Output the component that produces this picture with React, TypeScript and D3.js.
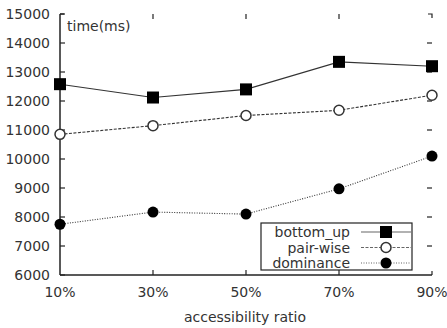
import React, { useEffect, useRef } from 'react';
import * as d3 from 'd3';

const categories = ['10%', '30%', '50%', '70%', '90%'];
const bottomUp = [12580, 12120, 12400, 13350, 13200];
const pairWise = [10850, 11150, 11500, 11680, 12200];
const dominance = [7750, 8170, 8100, 8970, 10100];
const yTicks = [6000, 7000, 8000, 9000, 10000, 11000, 12000, 13000, 14000, 15000];

const series = [
  { name: 'bottom_up', values: bottomUp, dash: null, marker: 'square' },
  { name: 'pair-wise', values: pairWise, dash: '3,1.5', marker: 'open' },
  { name: 'dominance', values: dominance, dash: '1,1.5', marker: 'dot' },
];

const App = () => {
  const svgRef = useRef<SVGSVGElement>(null);

  useEffect(() => {
    const svg = d3.select(svgRef.current);
    svg.selectAll('*').remove();

    const left = 60, right = 432, top = 14, bottom = 275;
    const x = d3.scalePoint().domain(categories).range([left, right]);
    const y = d3.scaleLinear().domain([6000, 15000]).range([bottom, top]);
    const font = 'DejaVu Sans, sans-serif';
    const ink = '#222';
    const txt = '#333';

    // axes lines
    svg.append('line').attr('x1', left).attr('x2', left).attr('y1', top).attr('y2', bottom)
      .attr('stroke', ink).attr('stroke-width', 1.5);
    svg.append('line').attr('x1', left).attr('x2', right).attr('y1', bottom).attr('y2', bottom)
      .attr('stroke', ink).attr('stroke-width', 1.5);
    // small corner pieces
    svg.append('path').attr('d', `M${left},${top}H${left + 4}`).attr('stroke', ink).attr('stroke-width', 1.2);
    svg.append('path').attr('d', `M${right - 4},${top}H${right}V${top + 4}`).attr('fill', 'none').attr('stroke', ink).attr('stroke-width', 1.2);
    svg.append('path').attr('d', `M${right},${bottom}V${bottom - 4}`).attr('stroke', ink).attr('stroke-width', 1.2);

    yTicks.forEach(t => {
      const yy = y(t);
      svg.append('line').attr('x1', left).attr('x2', left + 5).attr('y1', yy).attr('y2', yy)
        .attr('stroke', ink).attr('stroke-width', 1.2);
      if (t > 6000 && t < 15000) {
        svg.append('line').attr('x1', right - 5).attr('x2', right).attr('y1', yy).attr('y2', yy)
          .attr('stroke', ink).attr('stroke-width', 1.2);
      }
      svg.append('text').attr('x', 50).attr('y', yy + 5).attr('text-anchor', 'end')
        .attr('font-family', font).attr('font-size', 14).attr('fill', txt).text(t);
    });

    categories.forEach((c, i) => {
      const xx = x(c)!;
      if (i > 0 && i < categories.length - 1) {
        svg.append('line').attr('x1', xx).attr('x2', xx).attr('y1', bottom).attr('y2', bottom - 5)
          .attr('stroke', ink).attr('stroke-width', 1.2);
        svg.append('line').attr('x1', xx).attr('x2', xx).attr('y1', top).attr('y2', top + 5)
          .attr('stroke', ink).attr('stroke-width', 1.2);
      }
      svg.append('text').attr('x', xx).attr('y', 297).attr('text-anchor', 'middle')
        .attr('font-family', font).attr('font-size', 14).attr('fill', txt).text(c);
    });

    svg.append('text').attr('x', 67).attr('y', 31).attr('font-family', font).attr('font-size', 14)
      .attr('fill', txt).text('time(ms)');
    svg.append('text').attr('x', 245).attr('y', 322).attr('text-anchor', 'middle')
      .attr('font-family', font).attr('font-size', 14).attr('fill', txt).text('accessibility ratio');

    const drawMarker = (g: any, m: string, cx: number, cy: number) => {
      if (m === 'square') {
        g.append('rect').attr('x', cx - 6).attr('y', cy - 6).attr('width', 12).attr('height', 12)
          .attr('fill', '#000');
      } else if (m === 'open') {
        g.append('circle').attr('cx', cx).attr('cy', cy).attr('r', 5)
          .attr('fill', '#fff').attr('stroke', '#333').attr('stroke-width', 1.5);
      } else {
        g.append('circle').attr('cx', cx).attr('cy', cy).attr('r', 5.5).attr('fill', '#000');
      }
    };

    const line = d3.line<number>().x((_, i) => x(categories[i])!).y(d => y(d));
    series.forEach(s => {
      const p = svg.append('path').attr('d', line(s.values)).attr('fill', 'none')
        .attr('stroke', '#333').attr('stroke-width', 1.1);
      if (s.dash) p.attr('stroke-dasharray', s.dash);
      s.values.forEach((v, i) => drawMarker(svg, s.marker, x(categories[i])!, y(v)));
    });

    // legend
    const lg = svg.append('g');
    lg.append('rect').attr('x', 261).attr('y', 223).attr('width', 151).attr('height', 47)
      .attr('fill', '#fff').attr('stroke', ink).attr('stroke-width', 1.2);
    series.forEach((s, i) => {
      const ly = 232 + i * 15.5;
      lg.append('text').attr('x', 350).attr('y', ly + 5).attr('text-anchor', 'end')
        .attr('font-family', font).attr('font-size', 14).attr('fill', txt).text(s.name);
      const l = lg.append('line').attr('x1', 361).attr('x2', 411).attr('y1', ly).attr('y2', ly)
        .attr('stroke', '#666').attr('stroke-width', 1.1);
      if (s.dash) l.attr('stroke-dasharray', s.dash);
      drawMarker(lg, s.marker, 386, ly);
    });
  }, []);

  return (
    <svg ref={svgRef} width={447} height={328}
      style={{ position: 'absolute', left: 0, top: 0, background: '#fff' }} />
  );
};

export default App;
